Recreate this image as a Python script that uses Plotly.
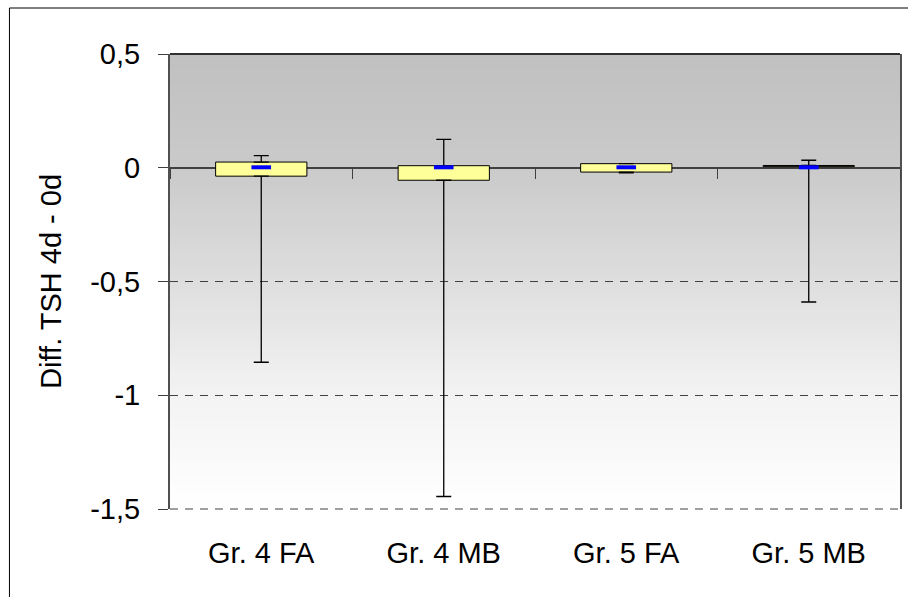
import plotly.graph_objects as go

# Box-plot summary per group (TSH difference, day 4 minus day 0)
groups = ["Gr. 4 FA", "Gr. 4 MB", "Gr. 5 FA", "Gr. 5 MB"]
q1 = [-0.037, -0.055, -0.019, 0.005]
q3 = [0.025, 0.009, 0.018, 0.010]
median = [0.002, 0.002, 0.002, 0.002]
minimum = [-0.855, -1.445, -0.022, -0.590]
maximum = [0.053, 0.125, 0.018, 0.033]

y_ticks = [-1.5, -1.0, -0.5, 0.0, 0.5]
y_tick_text = ["-1,5", "-1", "-0,5", "0", "0,5"]

FONT = "Liberation Sans, Arial, sans-serif"
FS = 29
W, H = 908, 597
L, R, T, B = 170, 6, 54, 88

fig = go.Figure()

# boxes (q1..q3)
fig.add_trace(go.Bar(
    x=groups,
    y=[b - a for a, b in zip(q1, q3)],
    base=q1,
    width=0.5,
    marker=dict(color="#ffff99", line=dict(color="#000000", width=1)),
    hoverinfo="skip",
    showlegend=False,
))

# upper whiskers
fig.add_trace(go.Scatter(
    x=groups, y=q3, mode="markers",
    marker=dict(size=1, opacity=0),
    error_y=dict(type="data", symmetric=False,
                 array=[mx - b for mx, b in zip(maximum, q3)],
                 arrayminus=[0] * len(groups),
                 color="#000000", thickness=1.3, width=7.5),
    hoverinfo="skip", showlegend=False,
))

# lower whiskers
fig.add_trace(go.Scatter(
    x=groups, y=q1, mode="markers",
    marker=dict(size=1, opacity=0),
    error_y=dict(type="data", symmetric=False,
                 array=[0] * len(groups),
                 arrayminus=[a - mn for a, mn in zip(q1, minimum)],
                 color="#000000", thickness=1.3, width=7.5),
    hoverinfo="skip", showlegend=False,
))

# median marks
fig.add_trace(go.Scatter(
    x=groups, y=median, mode="markers",
    marker=dict(symbol="line-ew", size=14,
                line=dict(color="#0000ff", width=4)),
    hoverinfo="skip", showlegend=False,
))

# helper trace for the category axis crossing at zero
fig.add_trace(go.Scatter(
    x=groups, y=median, xaxis="x2", mode="markers",
    marker=dict(size=1, opacity=0),
    hoverinfo="skip", showlegend=False,
))

# vertical gray-to-white gradient behind the plot area
stops = [(0.0, 255), (0.25, 243), (0.5, 222), (0.75, 202), (1.0, 192)]


def shade(f):
    for (f0, c0), (f1, c1) in zip(stops[:-1], stops[1:]):
        if f0 <= f <= f1:
            return c0 + (c1 - c0) * (f - f0) / (f1 - f0)
    return stops[-1][1]


shapes = []
n = 91
for i in range(n):
    y0 = i / n
    y1 = (i + 1) / n
    g = int(round(shade((y0 + y1) / 2)))
    shapes.append(dict(
        type="rect", xref="x domain", yref="y domain",
        x0=0, x1=1, y0=y0, y1=y1 + 0.002,
        fillcolor=f"rgb({g},{g},{g})", line=dict(width=0), layer="below",
    ))

# top edge of the plot area
shapes.append(dict(type="line", xref="x domain", yref="y domain",
                   x0=0, x1=1, y0=1, y1=1,
                   line=dict(color="#000000", width=1.5), layer="above"))
# dashed bottom edge of the plot area
shapes.append(dict(type="line", xref="x domain", yref="y domain",
                   x0=0, x1=1, y0=0, y1=0,
                   line=dict(color="#404040", width=1, dash="8px,7px"),
                   layer="above"))

# outer chart frame
pw, ph = W - L - R, H - T - B
shapes.append(dict(type="rect", xref="paper", yref="paper",
                   x0=(9 - L) / pw, x1=(W + 5 - L) / pw,
                   y0=-(H + 5 - (T + ph)) / ph, y1=(T + ph - 8) / ph,
                   line=dict(color="#000000", width=1), fillcolor="rgba(0,0,0,0)",
                   layer="above"))

fig.update_layout(
    width=W, height=H,
    margin=dict(l=L, r=R, t=T, b=B),
    paper_bgcolor="#ffffff",
    plot_bgcolor="#ffffff",
    font=dict(family=FONT, size=FS, color="#000000"),
    shapes=shapes,
    xaxis=dict(
        type="category", categoryorder="array", categoryarray=groups,
        range=[-0.5, 3.5], showgrid=False, showline=False, zeroline=False,
        ticks="", ticklabelstandoff=24,
        tickfont=dict(family=FONT, size=FS),
    ),
    xaxis2=dict(
        type="category", categoryorder="array", categoryarray=groups,
        range=[-0.5, 3.5], overlaying="x", anchor="free", position=0.75,
        showgrid=False, showline=False, zeroline=False,
        showticklabels=False, ticks="outside", tickson="boundaries",
        ticklen=10, tickwidth=1.3, tickcolor="#404040",
    ),
    yaxis=dict(
        range=[-1.5, 0.5], tickvals=y_ticks, ticktext=y_tick_text,
        showgrid=True, gridcolor="#404040", gridwidth=1, griddash="8px,7px",
        zeroline=True, zerolinecolor="#404040", zerolinewidth=1.5,
        showline=True, linecolor="#505050", linewidth=2, mirror=True,
        ticks="outside", ticklen=10, tickwidth=1, tickcolor="#404040",
        ticklabelstandoff=12,
        tickfont=dict(family=FONT, size=FS),
    ),
    annotations=[dict(
        text="Diff. TSH 4d - 0d", textangle=-90,
        xref="paper", yref="y", x=(50 - L) / pw, y=-0.5,
        xanchor="center", yanchor="middle", showarrow=False,
        font=dict(family=FONT, size=FS, color="#000000"),
    )],
)

fig.write_html("out.html")
